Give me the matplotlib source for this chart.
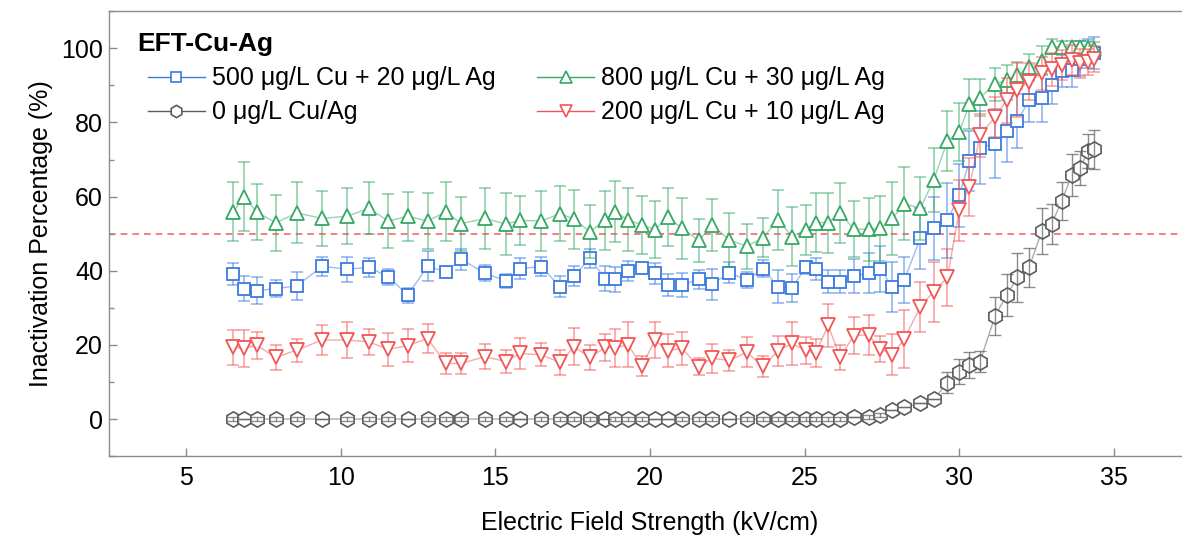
import numpy as np
import matplotlib
matplotlib.use("Agg")
import matplotlib.pyplot as plt
from matplotlib.lines import Line2D

plt.rcParams['font.family'] = ['Liberation Sans', 'DejaVu Sans']

# electric field strength (kV/cm), shared by all series
field = [6.53, 6.88, 7.29, 7.90, 8.58, 9.41, 10.20, 10.92, 11.54, 12.17,
         12.81, 13.41, 13.89, 14.67, 15.34, 15.80, 16.48, 17.10, 17.55, 18.06,
         18.55, 18.87, 19.28, 19.75, 20.16, 20.59, 21.03, 21.58, 22.02, 22.56,
         23.13, 23.66, 24.14, 24.59, 25.03, 25.36, 25.76, 26.15, 26.59, 27.07,
         27.45, 27.84, 28.22, 28.74, 29.17, 29.62, 30.00, 30.33, 30.67, 31.16,
         31.53, 31.88, 32.26, 32.67, 32.99, 33.31, 33.64, 33.91, 34.17, 34.36]

# 500 ug/L Cu + 20 ug/L Ag
blue_y = [39.1, 35.2, 34.6, 35.2, 35.9, 41.2, 40.4, 40.9, 38.4, 33.4,
          41.2, 39.7, 43.1, 39.3, 37.3, 40.6, 41.1, 35.7, 38.6, 43.3,
          37.9, 37.7, 39.9, 40.8, 39.3, 36.1, 36.1, 37.7, 36.3, 39.5,
          37.5, 40.6, 35.7, 35.3, 40.9, 40.5, 37.0, 37.0, 38.6, 39.3,
          40.4, 35.7, 37.5, 48.7, 51.4, 53.6, 60.4, 69.6, 73.2, 74.3,
          77.7, 80.4, 86.0, 86.6, 90.0, 93.9, 94.1, 97.2, 98.6, 98.8]
blue_err = [3.0, 3.3, 3.6, 2.2, 3.7, 2.5, 3.4, 2.6, 2.2, 2.0,
            4.0, 1.3, 2.8, 2.2, 1.9, 2.9, 2.5, 2.8, 2.6, 2.5,
            3.4, 3.4, 2.8, 1.3, 2.9, 2.9, 3.2, 2.5, 4.2, 2.9,
            2.2, 2.2, 4.4, 3.7, 1.7, 2.9, 3.1, 3.1, 4.5, 5.4,
            6.2, 6.7, 6.3, 8.3, 8.5, 10.1, 8.5, 8.1, 9.9, 9.2,
            8.3, 7.2, 5.8, 6.4, 5.0, 4.3, 4.5, 4.7, 4.0, 4.3]

# 800 ug/L Cu + 30 ug/L Ag
green_y = [55.9, 59.9, 55.9, 52.9, 55.6, 54.1, 54.7, 56.8, 53.4, 54.7,
           53.4, 55.9, 52.7, 54.1, 52.6, 53.6, 53.4, 55.4, 53.9, 50.5,
           53.6, 55.9, 53.8, 52.3, 51.1, 54.5, 51.4, 48.2, 52.3, 48.3,
           46.6, 48.9, 53.8, 49.2, 51.0, 53.0, 53.0, 55.6, 51.2, 51.2,
           51.4, 54.1, 58.1, 56.8, 64.4, 75.0, 77.4, 84.9, 86.7, 90.3,
           91.4, 92.7, 94.9, 96.7, 100.4, 100.4, 100.4, 100.4, 100.0, 99.8]
green_err = [7.9, 9.3, 7.6, 7.6, 8.2, 7.3, 7.5, 7.0, 7.3, 6.6,
             7.6, 7.9, 7.3, 8.2, 8.4, 6.6, 8.1, 7.5, 8.0, 7.1,
             7.9, 8.2, 8.5, 7.8, 7.7, 7.7, 8.3, 5.8, 7.1, 7.3,
             6.1, 5.3, 8.1, 7.9, 6.8, 7.9, 8.1, 8.0, 7.6, 8.5,
             8.7, 9.8, 9.9, 8.5, 8.6, 8.2, 7.9, 6.7, 5.0, 4.4,
             4.2, 3.6, 3.6, 3.8, 2.0, 1.5, 1.5, 1.5, 2.0, 2.0]

# 0 ug/L Cu/Ag
gray_y = [0.0] * 38 + [0.6, 0.6,
          1.1, 2.4, 3.3, 4.2, 5.3, 9.8, 12.8, 14.6, 15.5, 27.8,
          33.4, 38.2, 40.9, 50.7, 52.6, 58.8, 65.8, 67.7, 72.3, 72.7]
gray_err = [0.6, 0, 0.6, 0.6, 0.6, 0, 0.6, 0.6, 0.6, 0,
            0.6, 0.6, 0.6, 0.6, 0.6, 0, 0.6, 0.6, 0.6, 0.6,
            0, 0.6, 0.6, 0.6, 0, 0, 0.6, 0.6, 0.6, 0,
            0.6, 0.6, 0.6, 0.6, 0.6, 0.6, 0.6, 0.6, 0, 0.6,
            0.6, 0, 0, 0, 0, 2.9, 3.4, 3.6, 2.9, 5.2,
            5.6, 6.7, 5.2, 6.3, 5.4, 5.1, 5.6, 4.5, 4.7, 5.2]

# 200 ug/L Cu + 10 ug/L Ag
red_y = [19.3, 19.1, 19.9, 16.6, 18.6, 21.3, 21.3, 20.8, 18.8, 19.8,
         21.7, 15.0, 15.0, 16.8, 15.5, 17.7, 17.3, 15.3, 19.5, 16.6,
         19.3, 19.1, 20.1, 14.3, 21.3, 18.4, 19.1, 14.1, 16.4, 15.8,
         18.0, 14.2, 18.4, 20.4, 18.5, 17.7, 25.3, 16.7, 22.5, 22.7,
         18.9, 17.4, 21.5, 30.3, 34.3, 38.2, 56.3, 62.6, 76.5, 81.5,
         86.0, 88.7, 91.0, 93.2, 94.3, 95.5, 96.8, 95.9, 96.3, 97.2]
red_err = [4.6, 5.0, 3.7, 3.3, 3.1, 4.0, 4.8, 3.6, 4.4, 4.5,
           3.9, 2.9, 2.8, 3.4, 3.0, 4.2, 3.1, 3.3, 5.0, 3.3,
           3.6, 5.2, 6.1, 2.6, 4.8, 4.5, 4.4, 2.3, 3.9, 2.9,
           4.0, 2.9, 4.0, 5.7, 3.6, 3.8, 5.8, 3.4, 4.9, 5.3,
           3.6, 5.5, 7.8, 6.7, 8.1, 7.6, 8.3, 7.9, 5.8, 5.4,
           6.1, 7.2, 5.0, 4.5, 4.5, 4.0, 4.0, 4.0, 3.5, 3.5]

labels = ["500 \u03bcg/L Cu + 20 \u03bcg/L Ag", "0 \u03bcg/L Cu/Ag",
          "800 \u03bcg/L Cu + 30 \u03bcg/L Ag", "200 \u03bcg/L Cu + 10 \u03bcg/L Ag"]

series = [
    # y, err, color, marker, size, label index
    (blue_y, blue_err, "#3a7be0", "s", 8.5, 0),
    (green_y, green_err, "#36a864", "^", 10, 2),
    (gray_y, gray_err, "#5c5c5c", "h", 11, 1),
    (red_y, red_err, "#f25555", "v", 10, 3),
]

fig = plt.figure(figsize=(11.82, 5.39), dpi=100)
ax = fig.add_axes([0.0919, 0.1538, 0.9159, 0.8254])

handles = {}
z = 3
for y, err, c, m, ms, li in series:
    ax.plot(field, y, color=c, lw=1.0, alpha=0.5, zorder=z)
    if m == "h":
        ax.plot(field, y, ls="none", marker=m, ms=ms, mfc="white", mec=c, mew=1.2, zorder=z + 0.2)
        ax.errorbar(field, y, yerr=err, fmt="none", ecolor=c, elinewidth=1.0, capsize=4,
                    capthick=1.0, alpha=0.7, zorder=z + 0.3)
    else:
        ax.errorbar(field, y, yerr=err, fmt="none", ecolor=c, elinewidth=1.2, capsize=4,
                    capthick=1.2, alpha=0.55, zorder=z + 0.1)
        ax.plot(field, y, ls="none", marker=m, ms=ms, mfc="white", mec=c, mew=1.3, zorder=z + 0.2)
    handles[li] = Line2D([], [], color=c, lw=1.0, marker=m, ms=ms * 0.8, mfc="white", mec=c, mew=1.2)
    z += 1

ax.axhline(50, color="#f46a6a", lw=1.2, ls=(0, (4, 3)), zorder=1)

ax.set_xlim(2.5, 37.5)
ax.set_ylim(-10, 110)
ax.set_xticks([5, 10, 15, 20, 25, 30, 35])
ax.set_yticks([0, 20, 40, 60, 80, 100])
ax.set_yticks([-10, 10, 30, 50, 70, 90, 110], minor=True)
ax.tick_params(axis="both", which="major", direction="in", length=6, width=1, colors="#8c8c8c",
               labelcolor="black", labelsize=18)
ax.tick_params(axis="y", which="minor", direction="in", length=3.5, width=1, colors="#8c8c8c")
ax.tick_params(axis="x", pad=7)
ax.tick_params(axis="y", pad=4)
for s in ax.spines.values():
    s.set_color("#8c8c8c")
    s.set_linewidth(1.0)
ax.spines["right"].set_visible(False)

ax.set_xlabel("Electric Field Strength (kV/cm)", fontsize=18, labelpad=15)
ax.set_ylabel("Inactivation Percentage (%)", fontsize=18, labelpad=6)

ax.text(0.026, 0.926, "EFT-Cu-Ag", transform=ax.transAxes, fontsize=19, fontweight="bold",
        va="center", ha="left")
leg = ax.legend([handles[i] for i in range(4)], labels, ncol=2, loc="upper left",
                bbox_to_anchor=(0.036, 0.876), frameon=False, fontsize=18,
                handlelength=2.3, handletextpad=0.28, columnspacing=1.65,
                labelspacing=0.4, borderpad=0, borderaxespad=0)

fig.savefig("out.png", dpi=100)
